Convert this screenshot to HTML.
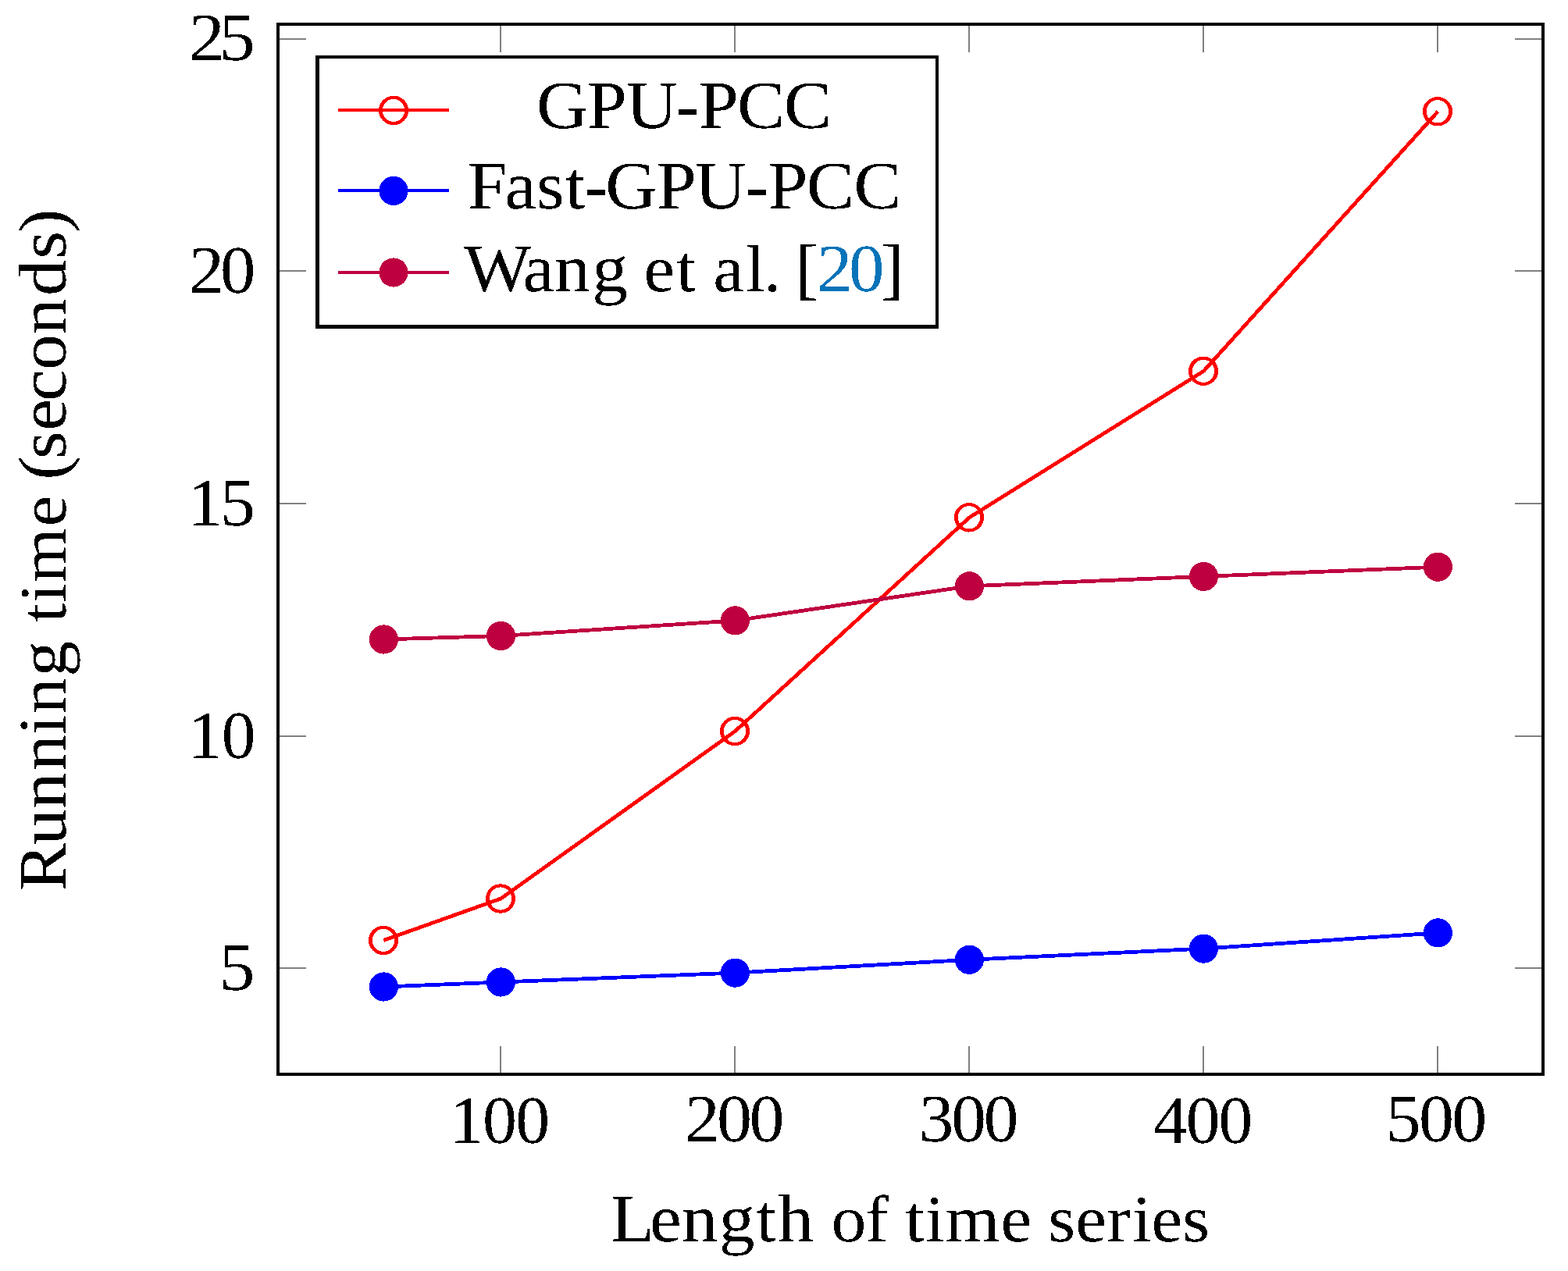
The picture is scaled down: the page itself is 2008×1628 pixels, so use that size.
<!DOCTYPE html>
<html lang="en">
<head>
<meta charset="utf-8">
<style>
html,body{margin:0;padding:0;background:#fff;}
body{width:2008px;height:1628px;overflow:hidden;}
svg{display:block;}
text{font-family:"Liberation Serif","DejaVu Serif",serif;font-size:87px;fill:#000;text-rendering:geometricPrecision;}
.lc{font-size:85px;}
.cite{fill:url(#cite);}
.tick{stroke:#808080;stroke-width:2;fill:none;}
.frame{stroke:#000;stroke-width:4;fill:none;}
.ln{fill:none;stroke-width:4.8;stroke-linejoin:round;stroke-linecap:butt;}
.lg{stroke-width:4;}
.r{stroke:#ff0000;}.b{stroke:#0000ff;}.p{stroke:#bf0040;}
.mo{fill:#ff0000;fill-rule:evenodd;stroke:none;}
.mb{fill:#0000ff;}.mp{fill:#bf0040;}
</style>
</head>
<body>
<svg width="2008" height="1628" viewBox="0 0 2008 1628">
<defs><linearGradient id="cite" gradientUnits="userSpaceOnUse" x1="999.1" y1="0" x2="1079.2" y2="0"><stop offset="0" stop-color="#000"/><stop offset="0" stop-color="#0873b8"/><stop offset="1" stop-color="#0873b8"/><stop offset="1" stop-color="#000"/></linearGradient><filter id="bw" filterUnits="userSpaceOnUse" x="0" y="0" width="2008" height="1628" color-interpolation-filters="sRGB"><feComponentTransfer><feFuncA type="discrete" tableValues="0 1"/></feComponentTransfer></filter></defs>
<rect x="0" y="0" width="2008" height="1628" fill="#ffffff"/>
<g shape-rendering="crispEdges">
<g class="tick">
<line x1="641" y1="1340" x2="641" y2="1376"/><line x1="641" y1="31" x2="641" y2="67"/>
<line x1="941" y1="1340" x2="941" y2="1376"/><line x1="941" y1="31" x2="941" y2="67"/>
<line x1="1241" y1="1340" x2="1241" y2="1376"/><line x1="1241" y1="31" x2="1241" y2="67"/>
<line x1="1541" y1="1340" x2="1541" y2="1376"/><line x1="1541" y1="31" x2="1541" y2="67"/>
<line x1="1841" y1="1340" x2="1841" y2="1376"/><line x1="1841" y1="31" x2="1841" y2="67"/>
<line x1="356" y1="50" x2="392" y2="50"/><line x1="1940" y1="50" x2="1976" y2="50"/>
<line x1="356" y1="347" x2="392" y2="347"/><line x1="1940" y1="347" x2="1976" y2="347"/>
<line x1="356" y1="645" x2="392" y2="645"/><line x1="1940" y1="645" x2="1976" y2="645"/>
<line x1="356" y1="943" x2="392" y2="943"/><line x1="1940" y1="943" x2="1976" y2="943"/>
<line x1="356" y1="1240" x2="392" y2="1240"/><line x1="1940" y1="1240" x2="1976" y2="1240"/>
</g>
<rect class="frame" x="356" y="31" width="1620" height="1345"/>
<g>
<polyline class="ln r" points="491.4,1204.4 641.4,1151 941.4,936.6 1241.4,662.8 1541.4,475.3 1841.4,142.8"/>
<path class="mo" d="M471.9 1204.4a19.1 18.7 0 1 0 38.2 0a19.1 18.7 0 1 0 -38.2 0ZM476.85 1204.4a14.15 14.55 0 1 0 28.3 0a14.15 14.55 0 1 0 -28.3 0Z"/>
<path class="mo" d="M621.9 1151a19.1 18.7 0 1 0 38.2 0a19.1 18.7 0 1 0 -38.2 0ZM626.85 1151a14.15 14.55 0 1 0 28.3 0a14.15 14.55 0 1 0 -28.3 0Z"/>
<path class="mo" d="M921.9 936.6a19.1 18.7 0 1 0 38.2 0a19.1 18.7 0 1 0 -38.2 0ZM926.85 936.6a14.15 14.55 0 1 0 28.3 0a14.15 14.55 0 1 0 -28.3 0Z"/>
<path class="mo" d="M1221.9 662.8a19.1 18.7 0 1 0 38.2 0a19.1 18.7 0 1 0 -38.2 0ZM1226.85 662.8a14.15 14.55 0 1 0 28.3 0a14.15 14.55 0 1 0 -28.3 0Z"/>
<path class="mo" d="M1521.9 475.3a19.1 18.7 0 1 0 38.2 0a19.1 18.7 0 1 0 -38.2 0ZM1526.85 475.3a14.15 14.55 0 1 0 28.3 0a14.15 14.55 0 1 0 -28.3 0Z"/>
<path class="mo" d="M1821.9 142.8a19.1 18.7 0 1 0 38.2 0a19.1 18.7 0 1 0 -38.2 0ZM1826.85 142.8a14.15 14.55 0 1 0 28.3 0a14.15 14.55 0 1 0 -28.3 0Z"/>
<polyline class="ln b" points="491.4,1264 641.4,1258 941.4,1246.1 1241.4,1229.3 1541.4,1215.1 1841.4,1194.9"/>
<circle class="mb" cx="491.4" cy="1264" r="18.6"/>
<circle class="mb" cx="641.4" cy="1258" r="18.6"/>
<circle class="mb" cx="941.4" cy="1246.1" r="18.6"/>
<circle class="mb" cx="1241.4" cy="1229.3" r="18.6"/>
<circle class="mb" cx="1541.4" cy="1215.1" r="18.6"/>
<circle class="mb" cx="1841.4" cy="1194.9" r="18.6"/>
<polyline class="ln p" points="491.4,819 641.4,814.5 941.4,794.9 1241.4,750.8 1541.4,738.4 1841.4,726.2"/>
<circle class="mp" cx="491.4" cy="819" r="18.6"/>
<circle class="mp" cx="641.4" cy="814.5" r="18.6"/>
<circle class="mp" cx="941.4" cy="794.9" r="18.6"/>
<circle class="mp" cx="1241.4" cy="750.8" r="18.6"/>
<circle class="mp" cx="1541.4" cy="738.4" r="18.6"/>
<circle class="mp" cx="1841.4" cy="726.2" r="18.6"/>
</g>
<g>
<path d="M404 71H1202V421H404Z" fill="#000"/>
<path d="M408.8 75H1198V416H408.8Z" fill="#fff"/>
<line class="ln lg r" x1="433" y1="141" x2="575" y2="141"/>
<path class="mo" d="M484.9 141.4a19.1 18.7 0 1 0 38.2 0a19.1 18.7 0 1 0 -38.2 0ZM489.85 141.4a14.15 14.55 0 1 0 28.3 0a14.15 14.55 0 1 0 -28.3 0Z"/>
<line class="ln lg b" x1="433" y1="244.4" x2="575" y2="244.4"/><circle class="mb" cx="504" cy="244.4" r="18.6"/>
<line class="ln lg p" x1="433" y1="349" x2="575" y2="349"/><circle class="mp" cx="504" cy="349" r="18.6"/>
</g>
</g>
<g filter="url(#bw)">
<g>
<text letter-spacing="-7.00" transform="translate(241.54 76.90) scale(1.0660 1)">25</text>
<text letter-spacing="-4.72" transform="translate(241.63 374.90) scale(1.0430 1)">20</text>
<text letter-spacing="-3.27" transform="translate(240.46 672.90) scale(1.0300 1)">15</text>
<text letter-spacing="-0.87" transform="translate(240.86 970.70) scale(1.0050 1)">10</text>
<text letter-spacing="0.00" transform="translate(280.60 1268.20) scale(1.0600 1)">5</text>
<text letter-spacing="-1.63" transform="translate(575.72 1463.70) scale(1.0100 1)">100</text>
<text letter-spacing="-3.58" transform="translate(876.76 1461.80) scale(1.0350 1)">200</text>
<text letter-spacing="-3.13" transform="translate(1176.79 1461.90) scale(1.0270 1)">300</text>
<text letter-spacing="-2.02" transform="translate(1476.99 1464.00) scale(1.0070 1)">400</text>
<text letter-spacing="-2.65" transform="translate(1774.73 1462.10) scale(1.0350 1)">500</text>
</g>
<text aria-label="Length of time series" transform="translate(0 1590.4) scale(1.0550 1)"><tspan x="741.2 788.6 827.7 872.8 918.0 944.0">Length</tspan> <tspan class="lc" x="1009.0 1049.9">of</tspan> <tspan class="lc" x="1098.7 1122.9 1147.3 1214.6">time</tspan> <tspan class="lc" x="1272.3 1305.5 1343.7 1374.3 1397.7 1435.4">series</tspan></text>
<text aria-label="Running time (seconds)" transform="translate(83.8 1138.1) rotate(-90) scale(1.0550 1)"><tspan x="-3.0 52.9 97.0 143.1 186.7 212.2 257.2">Running</tspan> <tspan class="lc" x="322.8 347.2 371.3 439.5">time</tspan> <tspan x="496.1 521.5 555.7 591.6 629.4 672.7 719.6 764.2 796.1">(seconds)</tspan></text>
<g>
<text aria-label="GPU-PCC" transform="translate(0 163.6) scale(1.0550 1)"><tspan x="651.1 712.6 759.9 820.1 848.0 894.7 951.5">GPU-PCC</tspan></text>
<text aria-label="Fast-GPU-PCC" transform="translate(0 266.6) scale(1.0550 1)"><tspan x="567.6 612.6 651.2 686.1 709.2 734.9 796.9 843.3 904.5 932.3 979.0 1036.3">Fast-GPU-PCC</tspan></text>
<text aria-label="Wang et al. [20]" transform="translate(0 372.9) scale(1.0480 1)"><tspan x="566.8 638.8 677.8 723.6">Wang</tspan> <tspan class="lc" x="786.7 826.6">et</tspan> <tspan class="lc" x="871.5 911.2 933.1">al.</tspan> <tspan class="cite" x="971.6 998.1 1037.3 1076.1">[20]</tspan></text>
</g>
</g>
</svg>
</body>
</html>
